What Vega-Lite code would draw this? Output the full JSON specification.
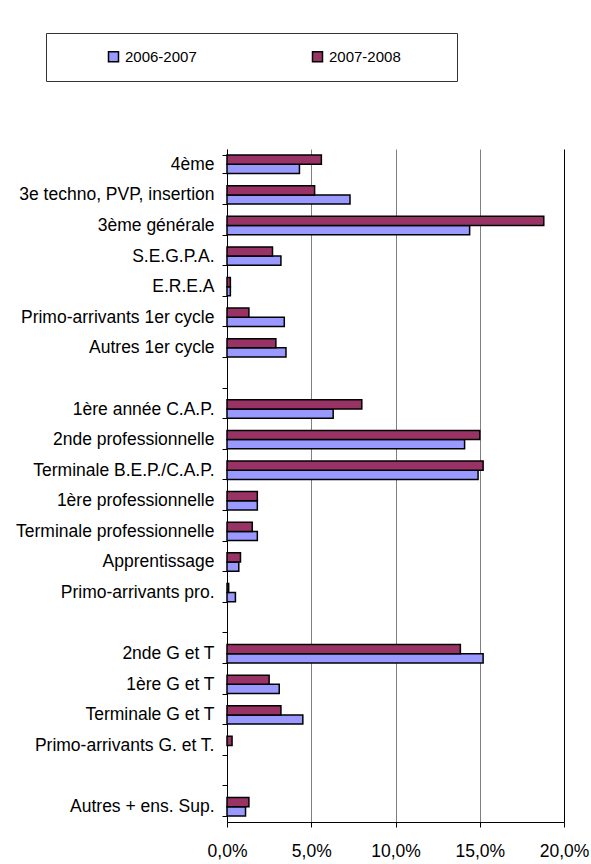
{
  "$schema": "https://vega.github.io/schema/vega-lite/v6.json",
  "width": 337,
  "height": 673,
  "autosize": {"type": "none"},
  "padding": {"left": 227, "top": 149, "right": 27, "bottom": 42},
  "background": "white",
  "config": {
    "font": "Liberation Sans",
    "view": {"stroke": null},
    "axis": {"labelFont": "Liberation Sans", "labelColor": "black"}
  },
  "data": {
    "values": [
      {"cat": "4ème", "year": "2006-2007", "value": 0.043},
      {"cat": "4ème", "year": "2007-2008", "value": 0.056},
      {"cat": "3e techno, PVP, insertion", "year": "2006-2007", "value": 0.073},
      {"cat": "3e techno, PVP, insertion", "year": "2007-2008", "value": 0.052},
      {"cat": "3ème générale", "year": "2006-2007", "value": 0.144},
      {"cat": "3ème générale", "year": "2007-2008", "value": 0.188},
      {"cat": "S.E.G.P.A.", "year": "2006-2007", "value": 0.032},
      {"cat": "S.E.G.P.A.", "year": "2007-2008", "value": 0.027},
      {"cat": "E.R.E.A", "year": "2006-2007", "value": 0.002},
      {"cat": "E.R.E.A", "year": "2007-2008", "value": 0.002},
      {"cat": "Primo-arrivants 1er cycle", "year": "2006-2007", "value": 0.034},
      {"cat": "Primo-arrivants 1er cycle", "year": "2007-2008", "value": 0.013},
      {"cat": "Autres 1er cycle", "year": "2006-2007", "value": 0.035},
      {"cat": "Autres 1er cycle", "year": "2007-2008", "value": 0.029},
      {"cat": "1ère année C.A.P.", "year": "2006-2007", "value": 0.063},
      {"cat": "1ère année C.A.P.", "year": "2007-2008", "value": 0.080},
      {"cat": "2nde professionnelle", "year": "2006-2007", "value": 0.141},
      {"cat": "2nde professionnelle", "year": "2007-2008", "value": 0.150},
      {"cat": "Terminale B.E.P./C.A.P.", "year": "2006-2007", "value": 0.149},
      {"cat": "Terminale B.E.P./C.A.P.", "year": "2007-2008", "value": 0.152},
      {"cat": "1ère professionnelle", "year": "2006-2007", "value": 0.018},
      {"cat": "1ère professionnelle", "year": "2007-2008", "value": 0.018},
      {"cat": "Terminale professionnelle", "year": "2006-2007", "value": 0.018},
      {"cat": "Terminale professionnelle", "year": "2007-2008", "value": 0.015},
      {"cat": "Apprentissage", "year": "2006-2007", "value": 0.007},
      {"cat": "Apprentissage", "year": "2007-2008", "value": 0.008},
      {"cat": "Primo-arrivants pro.", "year": "2006-2007", "value": 0.005},
      {"cat": "Primo-arrivants pro.", "year": "2007-2008", "value": 0.001},
      {"cat": "2nde G et T", "year": "2006-2007", "value": 0.152},
      {"cat": "2nde G et T", "year": "2007-2008", "value": 0.1385},
      {"cat": "1ère G et T", "year": "2006-2007", "value": 0.031},
      {"cat": "1ère G et T", "year": "2007-2008", "value": 0.025},
      {"cat": "Terminale G et T", "year": "2006-2007", "value": 0.045},
      {"cat": "Terminale G et T", "year": "2007-2008", "value": 0.032},
      {"cat": "Primo-arrivants G. et T.", "year": "2007-2008", "value": 0.003},
      {"cat": "Autres + ens. Sup.", "year": "2006-2007", "value": 0.011},
      {"cat": "Autres + ens. Sup.", "year": "2007-2008", "value": 0.013}
    ]
  },
  "mark": {"type": "bar", "stroke": "black", "strokeWidth": 1.5},
  "encoding": {
    "y": {
      "field": "cat",
      "type": "nominal",
      "scale": {
        "domain": ["4ème", "3e techno, PVP, insertion", "3ème générale", "S.E.G.P.A.", "E.R.E.A", "Primo-arrivants 1er cycle", "Autres 1er cycle", " ",
          "1ère année C.A.P.", "2nde professionnelle", "Terminale B.E.P./C.A.P.", "1ère professionnelle", "Terminale professionnelle", "Apprentissage", "Primo-arrivants pro.", "  ",
          "2nde G et T", "1ère G et T", "Terminale G et T", "Primo-arrivants G. et T.", "   ",
          "Autres + ens. Sup."],
        "paddingInner": 0.4,
        "paddingOuter": 0.2
      },
      "axis": {
        "title": null,
        "domainColor": "black",
        "domainWidth": 1,
        "tickColor": "black",
        "tickSize": 5,
        "tickBand": "extent",
        "labelFontSize": 17.5,
        "labelPadding": 8,
        "labelLimit": 300
      }
    },
    "yOffset": {
      "field": "year",
      "type": "nominal",
      "scale": {"domain": ["2007-2008", "2006-2007"], "paddingInner": 0, "paddingOuter": 0}
    },
    "x": {
      "field": "value",
      "type": "quantitative",
      "scale": {"domain": [0, 0.2], "nice": false},
      "axis": {
        "title": null,
        "values": [0, 0.05, 0.1, 0.15, 0.2],
        "format": ".1%",
        "labelExpr": "replace(datum.label, '.', ',')",
        "labelFontSize": 17.5,
        "labelPadding": 15,
        "tickSize": 5,
        "tickColor": "black",
        "domainColor": "black",
        "domainWidth": 1,
        "grid": true,
        "gridColor": {"condition": {"test": "datum.value >= 0.2", "value": "black"}, "value": "#808080"},
        "gridWidth": 1,
        "labelFlush": false
      }
    },
    "color": {
      "field": "year",
      "type": "nominal",
      "scale": {"domain": ["2006-2007", "2007-2008"], "range": ["#9999FF", "#993366"]},
      "legend": {
        "title": " ",
        "titleOrient": "right",
        "titlePadding": 40,
        "orient": "none",
        "legendX": -181,
        "legendY": -116,
        "direction": "horizontal",
        "strokeColor": "#333333",
        "padding": 16,
        "symbolType": "square",
        "symbolSize": 100,
        "symbolStrokeColor": "black",
        "symbolStrokeWidth": 1.5,
        "symbolOpacity": 1,
        "symbolOffset": 44,
        "labelFontSize": 15,
        "labelColor": "black",
        "labelOffset": 4,
        "columnPadding": 69
      }
    }
  }
}
